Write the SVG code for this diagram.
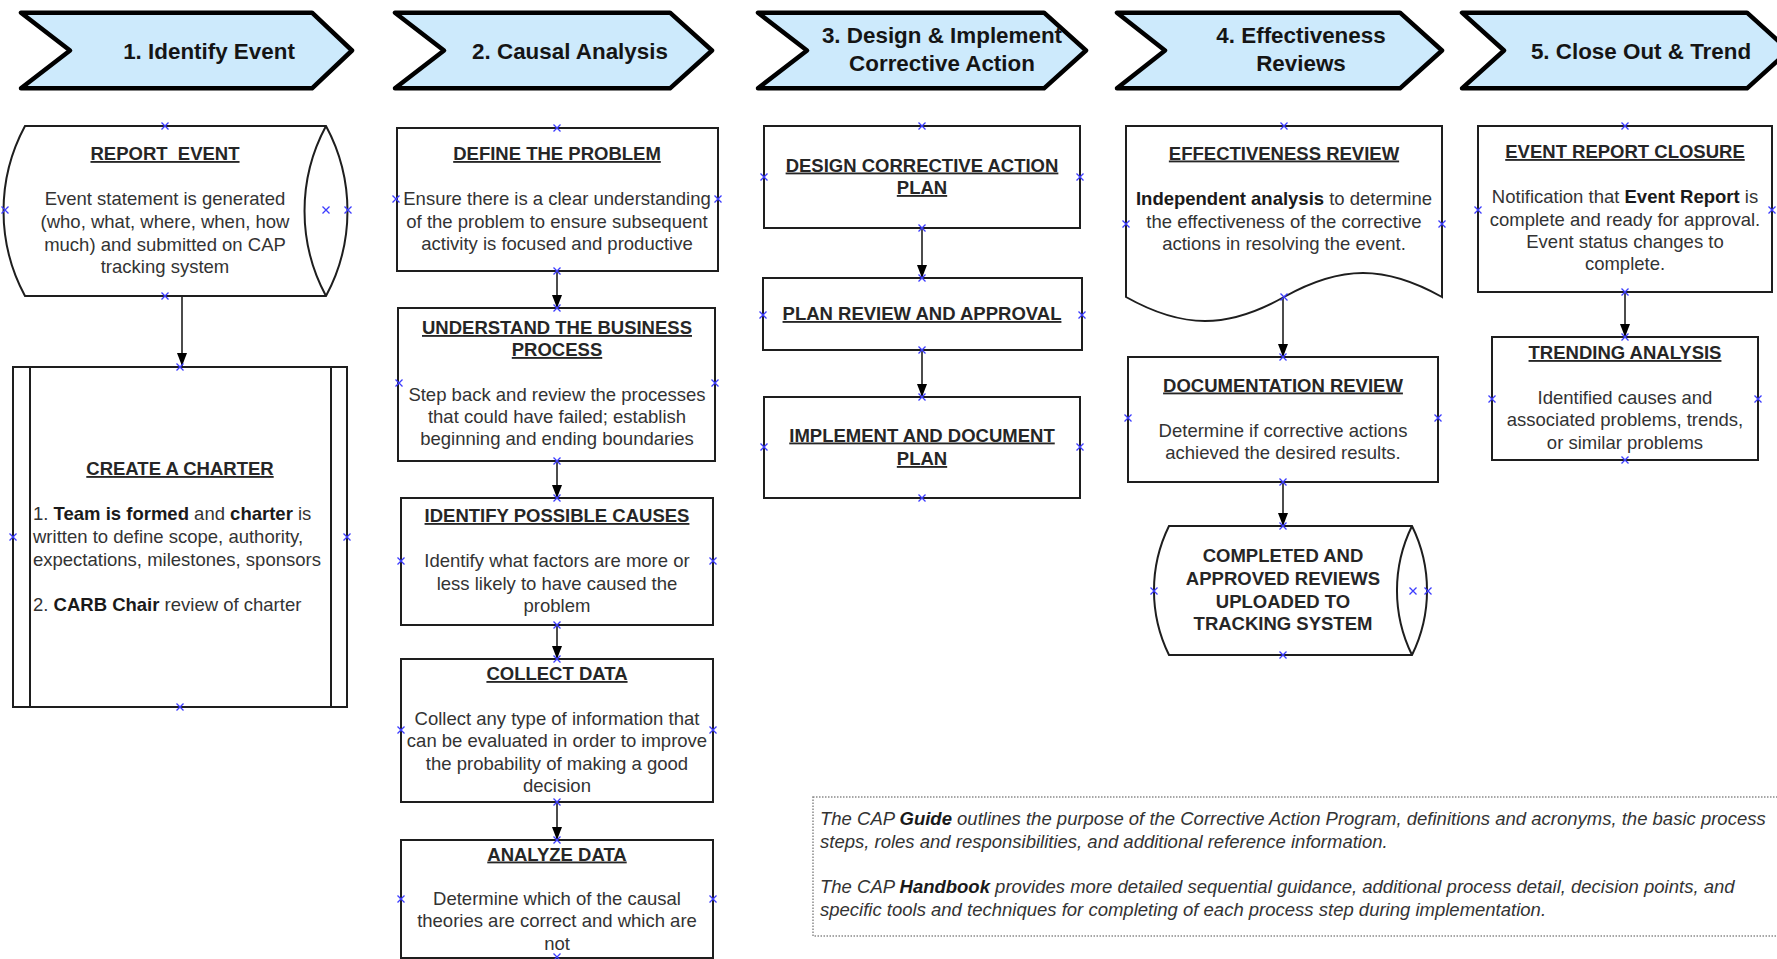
<svg xmlns="http://www.w3.org/2000/svg" xmlns:xlink="http://www.w3.org/1999/xlink" width="1777" height="959" viewBox="0 0 1777 959">
<style>
.chev{fill:#cdeafc;stroke:#000;stroke-width:4.5;stroke-linejoin:round}
.box{fill:#fff;stroke:#1e1e1e;stroke-width:2}
.ln{fill:none;stroke:#1e1e1e;stroke-width:2}
.con{fill:none;stroke:#111;stroke-width:1.5}
.h{font-family:"Liberation Sans",Arial,sans-serif;font-weight:bold;font-size:22.4px;fill:#151515;text-anchor:middle}
.t{font-family:"Liberation Sans",Arial,sans-serif;font-weight:bold;font-size:18.5px;fill:#262626;text-anchor:middle;text-decoration:underline}
.tb{font-family:"Liberation Sans",Arial,sans-serif;font-weight:bold;font-size:18.5px;fill:#262626;text-anchor:middle}
.b{font-family:"Liberation Sans",Arial,sans-serif;font-size:18.5px;fill:#333;text-anchor:middle}
.bl{font-family:"Liberation Sans",Arial,sans-serif;font-size:18.5px;fill:#333}
.n{font-family:"Liberation Sans",Arial,sans-serif;font-style:italic;font-size:18.5px;fill:#333}
.k{font-weight:bold;fill:#1a1a1a}
.note{fill:none;stroke:#8a8a8a;stroke-width:1.5;stroke-dasharray:1.5 1.5}
.xm{fill:none;stroke:#3c3cff;stroke-width:1.3}
</style>
<defs>
<marker id="arr" markerUnits="userSpaceOnUse" markerWidth="14" markerHeight="11" refX="13" refY="5" orient="auto">
<path d="M0,0 L13,5 L0,10 Z" fill="#000"/>
</marker>
<path id="x" class="xm" d="M-3.5,-3.5 L3.5,3.5 M-3.5,3.5 L3.5,-3.5"/>
</defs>
<rect width="1777" height="959" fill="#fff"/>

<g id="phase1">
<path class="chev" d="M21,12.7 H312 L352,50.5 L312,88.3 H21 L70,50.5 Z"/>
<text class="h" x="209" y="58.5">1. Identify Event</text>
</g>
<g id="phase2">
<path class="chev" d="M395,12.7 H670 L712,50.5 L670,88.3 H395 L444,50.5 Z"/>
<text class="h" x="570" y="58.5">2. Causal Analysis</text>
</g>
<g id="phase3">
<path class="chev" d="M758,12.7 H1044 L1086,50.5 L1044,88.3 H758 L807,50.5 Z"/>
<text class="h" x="942" y="43">3. Design &amp; Implement</text>
<text class="h" x="942" y="70.5">Corrective Action</text>
</g>
<g id="phase4">
<path class="chev" d="M1117,12.7 H1400 L1442,50.5 L1400,88.3 H1117 L1165,50.5 Z"/>
<text class="h" x="1301" y="43">4. Effectiveness</text>
<text class="h" x="1301" y="70.5">Reviews</text>
</g>
<g id="phase5">
<path class="chev" d="M1462,12.7 H1747 L1789,50.5 L1747,88.3 H1462 L1504,50.5 Z"/>
<text class="h" x="1641" y="58.5">5. Close Out &amp; Trend</text>
</g>

<g id="connectors">
<line class="con" x1="182" y1="296" x2="182" y2="366" marker-end="url(#arr)"/>
<line class="con" x1="557" y1="271" x2="557" y2="308" marker-end="url(#arr)"/>
<line class="con" x1="557" y1="461" x2="557" y2="498" marker-end="url(#arr)"/>
<line class="con" x1="557" y1="625" x2="557" y2="659" marker-end="url(#arr)"/>
<line class="con" x1="557" y1="802" x2="557" y2="840" marker-end="url(#arr)"/>
<line class="con" x1="922" y1="228" x2="922" y2="278" marker-end="url(#arr)"/>
<line class="con" x1="922" y1="350" x2="922" y2="397" marker-end="url(#arr)"/>
<line class="con" x1="1283" y1="297" x2="1283" y2="357" marker-end="url(#arr)"/>
<line class="con" x1="1283" y1="482" x2="1283" y2="526" marker-end="url(#arr)"/>
<line class="con" x1="1625" y1="292" x2="1625" y2="337" marker-end="url(#arr)"/>
</g>

<g id="report-event">
<path class="box" d="M25,126 H326 A179,179 0 0 1 326,296 H25 A179,179 0 0 1 25,126 Z"/>
<path class="ln" d="M326,126 A179,179 0 0 0 326,296"/>
<text class="t" x="165" y="160" xml:space="preserve">REPORT  EVENT</text>
<text class="b" x="165" y="204.5">Event statement is generated</text>
<text class="b" x="165" y="227.5">(who, what, where, when, how</text>
<text class="b" x="165" y="250.5">much) and submitted on CAP</text>
<text class="b" x="165" y="273">tracking system</text>
</g>

<g id="create-charter">
<rect class="box" x="13" y="367" width="334" height="340"/>
<line class="ln" x1="30" y1="367" x2="30" y2="707"/>
<line class="ln" x1="331" y1="367" x2="331" y2="707"/>
<text class="t" x="180" y="475">CREATE A CHARTER</text>
<text class="bl" x="33" y="520">1. <tspan class="k">Team is formed</tspan> and <tspan class="k">charter</tspan> is</text>
<text class="bl" x="33" y="543">written to define scope, authority,</text>
<text class="bl" x="33" y="566">expectations, milestones, sponsors</text>
<text class="bl" x="33" y="611">2. <tspan class="k">CARB Chair</tspan> review of charter</text>
</g>

<g id="define-problem">
<rect class="box" x="397" y="128" width="321" height="143"/>
<text class="t" x="557" y="160">DEFINE THE PROBLEM</text>
<text class="b" x="557" y="205">Ensure there is a clear understanding</text>
<text class="b" x="557" y="228">of the problem to ensure subsequent</text>
<text class="b" x="557" y="250">activity is focused and productive</text>
</g>

<g id="understand-process">
<rect class="box" x="398" y="308" width="317" height="153"/>
<text class="t" x="557" y="334">UNDERSTAND THE BUSINESS</text>
<text class="t" x="557" y="356">PROCESS</text>
<text class="b" x="557" y="401">Step back and review the processes</text>
<text class="b" x="557" y="423">that could have failed; establish</text>
<text class="b" x="557" y="445">beginning and ending boundaries</text>
</g>

<g id="identify-causes">
<rect class="box" x="401" y="498" width="312" height="127"/>
<text class="t" x="557" y="522">IDENTIFY POSSIBLE CAUSES</text>
<text class="b" x="557" y="567">Identify what factors are more or</text>
<text class="b" x="557" y="589.5">less likely to have caused the</text>
<text class="b" x="557" y="612">problem</text>
</g>

<g id="collect-data">
<rect class="box" x="401" y="659" width="312" height="143"/>
<text class="t" x="557" y="680">COLLECT DATA</text>
<text class="b" x="557" y="724.5">Collect any type of information that</text>
<text class="b" x="557" y="747">can be evaluated in order to improve</text>
<text class="b" x="557" y="769.5">the probability of making a good</text>
<text class="b" x="557" y="792">decision</text>
</g>

<g id="analyze-data">
<rect class="box" x="401" y="840" width="312" height="118"/>
<text class="t" x="557" y="860.5">ANALYZE DATA</text>
<text class="b" x="557" y="904.5">Determine which of the causal</text>
<text class="b" x="557" y="927">theories are correct and which are</text>
<text class="b" x="557" y="949.5">not</text>
</g>

<g id="design-plan">
<rect class="box" x="764" y="126" width="316" height="102"/>
<text class="t" x="922" y="171.5">DESIGN CORRECTIVE ACTION</text>
<text class="t" x="922" y="194">PLAN</text>
</g>

<g id="plan-review">
<rect class="box" x="763" y="278" width="319" height="72"/>
<text class="t" x="922" y="320">PLAN REVIEW AND APPROVAL</text>
</g>

<g id="implement-plan">
<rect class="box" x="764" y="397" width="316" height="101"/>
<text class="t" x="922" y="441.5">IMPLEMENT AND DOCUMENT</text>
<text class="t" x="922" y="465">PLAN</text>
</g>

<g id="effectiveness-review">
<path class="box" d="M1126,126 H1442 V297 C1385,265 1341,265 1284,297 C1227,329 1183,329 1126,297 Z"/>
<text class="t" x="1284" y="159.5">EFFECTIVENESS REVIEW</text>
<text class="b" x="1284" y="204.5"><tspan class="k">Independent analysis</tspan> to determine</text>
<text class="b" x="1284" y="227.5">the effectiveness of the corrective</text>
<text class="b" x="1284" y="250">actions in resolving the event.</text>
</g>

<g id="documentation-review">
<rect class="box" x="1128" y="357" width="310" height="125"/>
<text class="t" x="1283" y="391.5">DOCUMENTATION REVIEW</text>
<text class="b" x="1283" y="436.5">Determine if corrective actions</text>
<text class="b" x="1283" y="459">achieved the desired results.</text>
</g>

<g id="completed-reviews">
<path class="box" d="M1169,526 H1412 A146,146 0 0 1 1412,655 H1169 A146,146 0 0 1 1169,526 Z"/>
<path class="ln" d="M1412,526 A146,146 0 0 0 1412,655"/>
<text class="tb" x="1283" y="562">COMPLETED AND</text>
<text class="tb" x="1283" y="584.5">APPROVED REVIEWS</text>
<text class="tb" x="1283" y="608">UPLOADED TO</text>
<text class="tb" x="1283" y="630">TRACKING SYSTEM</text>
</g>

<g id="event-report-closure">
<rect class="box" x="1478" y="126" width="294" height="166"/>
<text class="t" x="1625" y="158">EVENT REPORT CLOSURE</text>
<text class="b" x="1625" y="203">Notification that <tspan class="k">Event Report</tspan> is</text>
<text class="b" x="1625" y="225.5">complete and ready for approval.</text>
<text class="b" x="1625" y="248">Event status changes to</text>
<text class="b" x="1625" y="270">complete.</text>
</g>

<g id="trending-analysis">
<rect class="box" x="1492" y="337" width="266" height="123"/>
<text class="t" x="1625" y="359">TRENDING ANALYSIS</text>
<text class="b" x="1625" y="403.5">Identified causes and</text>
<text class="b" x="1625" y="426">associated problems, trends,</text>
<text class="b" x="1625" y="448.5">or similar problems</text>
</g>

<g id="note">
<rect class="note" x="813" y="797" width="1000" height="139"/>
<text class="n" x="820" y="825">The CAP <tspan class="k">Guide</tspan> outlines the purpose of the Corrective Action Program, definitions and acronyms, the basic process</text>
<text class="n" x="820" y="848">steps, roles and responsibilities, and additional reference information.</text>
<text class="n" x="820" y="893">The CAP <tspan class="k">Handbook</tspan> provides more detailed sequential guidance, additional process detail, decision points, and</text>
<text class="n" x="820" y="916">specific tools and techniques for completing of each process step during implementation.</text>
</g>

<g id="connection-points">
<use xlink:href="#x" x="165" y="126"/><use xlink:href="#x" x="5" y="210"/><use xlink:href="#x" x="326" y="210"/><use xlink:href="#x" x="348" y="210"/><use xlink:href="#x" x="165" y="296"/>
<use xlink:href="#x" x="180" y="367"/><use xlink:href="#x" x="13" y="537"/><use xlink:href="#x" x="347" y="537"/><use xlink:href="#x" x="180" y="707"/>
<use xlink:href="#x" x="557" y="128"/><use xlink:href="#x" x="396" y="199"/><use xlink:href="#x" x="718" y="199"/><use xlink:href="#x" x="557" y="271"/>
<use xlink:href="#x" x="557" y="308"/><use xlink:href="#x" x="399" y="383"/><use xlink:href="#x" x="715" y="383"/><use xlink:href="#x" x="557" y="461"/>
<use xlink:href="#x" x="557" y="498"/><use xlink:href="#x" x="401" y="561"/><use xlink:href="#x" x="713" y="561"/><use xlink:href="#x" x="557" y="625"/>
<use xlink:href="#x" x="557" y="659"/><use xlink:href="#x" x="401" y="730"/><use xlink:href="#x" x="713" y="730"/><use xlink:href="#x" x="557" y="802"/>
<use xlink:href="#x" x="557" y="840"/><use xlink:href="#x" x="401" y="899"/><use xlink:href="#x" x="713" y="899"/><use xlink:href="#x" x="557" y="957"/>
<use xlink:href="#x" x="922" y="126"/><use xlink:href="#x" x="764" y="177"/><use xlink:href="#x" x="1080" y="177"/><use xlink:href="#x" x="922" y="228"/>
<use xlink:href="#x" x="922" y="278"/><use xlink:href="#x" x="763" y="315"/><use xlink:href="#x" x="1082" y="315"/><use xlink:href="#x" x="922" y="350"/>
<use xlink:href="#x" x="922" y="397"/><use xlink:href="#x" x="764" y="447"/><use xlink:href="#x" x="1080" y="447"/><use xlink:href="#x" x="922" y="498"/>
<use xlink:href="#x" x="1284" y="126"/><use xlink:href="#x" x="1126" y="224"/><use xlink:href="#x" x="1442" y="224"/><use xlink:href="#x" x="1284" y="297"/>
<use xlink:href="#x" x="1283" y="357"/><use xlink:href="#x" x="1128" y="418"/><use xlink:href="#x" x="1438" y="418"/><use xlink:href="#x" x="1283" y="482"/>
<use xlink:href="#x" x="1283" y="526"/><use xlink:href="#x" x="1154" y="591"/><use xlink:href="#x" x="1413" y="591"/><use xlink:href="#x" x="1428" y="591"/><use xlink:href="#x" x="1283" y="655"/>
<use xlink:href="#x" x="1625" y="126"/><use xlink:href="#x" x="1478" y="210"/><use xlink:href="#x" x="1772" y="210"/><use xlink:href="#x" x="1625" y="292"/>
<use xlink:href="#x" x="1625" y="337"/><use xlink:href="#x" x="1492" y="399"/><use xlink:href="#x" x="1758" y="399"/><use xlink:href="#x" x="1625" y="460"/>
</g>
</svg>
